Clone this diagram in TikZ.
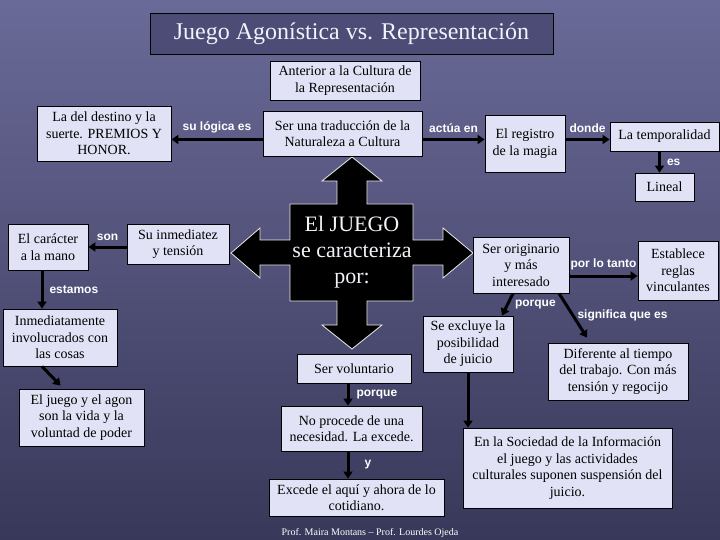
\documentclass[tikz,border=0pt]{standalone}
\usepackage{fontspec}
\setmainfont{Liberation Serif}
\setsansfont{Liberation Sans}
\usetikzlibrary{arrows.meta}
\definecolor{bgtop}{RGB}{106,106,152}
\definecolor{bgbottom}{RGB}{56,56,90}
\definecolor{boxfill}{RGB}{226,226,246}
\definecolor{titlefill}{RGB}{76,76,118}
\definecolor{paleink}{RGB}{242,242,250}
\tikzset{
  conceptbox/.style={draw=black, line width=0.8pt, fill=boxfill, align=center,
                     inner sep=0pt, font=\fontsize{14}{16.5}\selectfont},
  linklabel/.style={text=white, inner sep=0pt, font=\sffamily\bfseries\fontsize{12}{14}\selectfont},
  link/.style={line width=3pt, -{Triangle[length=7pt,width=9pt]}},
}

\begin{document}
\begin{tikzpicture}[x=1pt, y=-1pt]
        \path[use as bounding box] (0,0) rectangle (720,540);
        \shade[top color=bgtop, bottom color=bgbottom] (0,0) rectangle (720,540);

        % title
        \node[draw=black, line width=0.8pt, fill=titlefill, text=paleink,
              minimum width=403pt, minimum height=41pt, inner sep=0pt,
              font=\fontsize{24}{28}\selectfont] (title) at (351.5,33.5)
          {Juego Agonística vs. Representación};

        % the big cross
        \draw[fill=black, draw=white!85!gray, line width=0.8pt]
          (290,204) -- (337,204) -- (337,181) -- (322,181) -- (352,157) -- (382,181)
          -- (367,181) -- (367,204) -- (413,204) -- (413,240) -- (443,240) -- (443,228)
          -- (473,253) -- (443,278) -- (443,265) -- (413,265) -- (413,301) -- (367,301)
          -- (367,325) -- (382,325) -- (352,349) -- (322,325) -- (337,325) -- (337,301)
          -- (290,301) -- (290,265) -- (260,265) -- (260,278) -- (231,253) -- (260,228)
          -- (260,240) -- (290,240) -- cycle;
        \node[text=paleink, align=center, font=\fontsize{22}{26}\selectfont] (juego) at (352,252)
          {El JUEGO\\se caracteriza\\por:};

        % boxes
        \node[conceptbox, minimum width=150pt, minimum height=39pt] (anterior) at (345,80.5)
          {Anterior a la Cultura de\\la Representación};
        \node[conceptbox, minimum width=134pt, minimum height=55pt] (destino) at (104,133.5)
          {La del destino y la\\suerte. PREMIOS Y\\HONOR.};
        \node[conceptbox, minimum width=159pt, minimum height=45pt] (trad) at (342.5,133.5)
          {Ser una traducción de la\\Naturaleza a Cultura};
        \node[conceptbox, minimum width=80pt, minimum height=57pt] (registro) at (525,143.5)
          {El registro\\de la magia};
        \node[conceptbox, minimum width=109pt, minimum height=29pt] (tempo) at (664.5,136.5)
          {La temporalidad};
        \node[conceptbox, minimum width=59pt, minimum height=28pt] (lineal) at (664.5,187)
          {Lineal};
        \node[conceptbox, minimum width=80pt, minimum height=46pt] (caracter) at (48,247)
          {El carácter\\a la mano};
        \node[conceptbox, minimum width=102pt, minimum height=40pt] (inmed) at (178,244)
          {Su inmediatez\\y tensión};
        \node[conceptbox, minimum width=114pt, minimum height=57pt] (invol) at (60,337.5)
          {Inmediatamente\\involucrados con\\las cosas};
        \node[conceptbox, minimum width=125pt, minimum height=57pt] (agon) at (81.5,417.5)
          {El juego y el agon\\son la vida y la\\voluntad de poder};
        \node[conceptbox, minimum width=114pt, minimum height=29pt] (volunt) at (354,368.5)
          {Ser voluntario};
        \node[conceptbox, minimum width=141pt, minimum height=45pt] (noproc) at (351.5,428.5)
          {No procede de una\\necesidad. La excede.};
        \node[conceptbox, minimum width=175pt, minimum height=37pt] (excede) at (356.5,497.5)
          {Excede el aquí y ahora de lo\\cotidiano.};
        \node[conceptbox, minimum width=96pt, minimum height=56pt] (origin) at (521,265)
          {Ser originario\\y más\\interesado};
        \node[conceptbox, minimum width=80pt, minimum height=59pt] (reglas) at (678,270.5)
          {Establece\\reglas\\vinculantes};
        \node[conceptbox, minimum width=90pt, minimum height=56pt] (excluye) at (468,344)
          {Se excluye la\\posibilidad\\de juicio};
        \node[conceptbox, minimum width=140pt, minimum height=57pt] (difer) at (618,371.5)
          {Diferente al tiempo\\del trabajo. Con más\\tensión y regocijo};
        \node[conceptbox, minimum width=209pt, minimum height=80pt] (socied) at (567.5,468)
          {En la Sociedad de la Información\\el juego y las actividades\\culturales suponen suspensión del\\juicio.};

        % connectors
        \draw[link] ([yshift=-6pt]trad.west) -- ([yshift=-6pt]trad.west -| destino.east)
          node[linklabel, midway, above=5pt] {su lógica es};
        \draw[link] ([yshift=-6pt]trad.east) -- ([yshift=-6pt]trad.east -| registro.west)
          node[linklabel, midway, above=5pt] {actúa en};
        \draw[link] ([yshift=4pt]registro.east) -- ([yshift=4pt]registro.east -| tempo.west)
          node[linklabel, midway, above=5pt] {donde};
        \draw[link] ([xshift=-5pt]tempo.south) -- ([xshift=-5pt]tempo.south |- lineal.north)
          node[linklabel, midway, right=6pt] {es};
        \draw[link] (inmed.west |- caracter) -- (caracter.east)
          node[linklabel, midway, above=5pt] {son};
        \draw[link] ([xshift=-6pt]caracter.south) -- ([xshift=-6pt]caracter.south |- invol.north)
          node[linklabel, midway, right=6pt] {estamos};
        \draw[link] ([xshift=-18pt]invol.south) -- ([xshift=-21pt,yshift=3pt]agon.north);
        \draw[link] ([xshift=-6pt]volunt.south) -- ([xshift=-6pt]volunt.south |- noproc.north)
          node[linklabel, midway, right=7pt] {porque};
        \draw[link] ([xshift=-3.5pt]noproc.south) -- ([xshift=-3.5pt]noproc.south |- excede.north)
          node[linklabel, midway, right=15pt] {y};
        \draw[link] ([yshift=-11pt]origin.east) -- ([yshift=-11pt]origin.east -| reglas.west)
          node[linklabel, midway, above=5pt] {por lo tanto};
        \draw[link] ([xshift=-8pt]origin.south) -- ([xshift=34pt]excluye.north)
          node[linklabel, midway, right=6pt] {porque};
        \draw[link] ([xshift=38pt]origin.south) -- ([xshift=-31pt,yshift=5pt]difer.north)
          node[linklabel, midway, right=3pt] {significa que es};
        \draw[link] (excluye.south) -- (excluye.south |- socied.north);

        % credits
        \node[text=white, inner sep=0pt, font=\fontsize{10}{12}\selectfont] (credits) at (370,533)
          {Prof. Maira Montans – Prof. Lourdes Ojeda};
\end{tikzpicture}
\end{document}
